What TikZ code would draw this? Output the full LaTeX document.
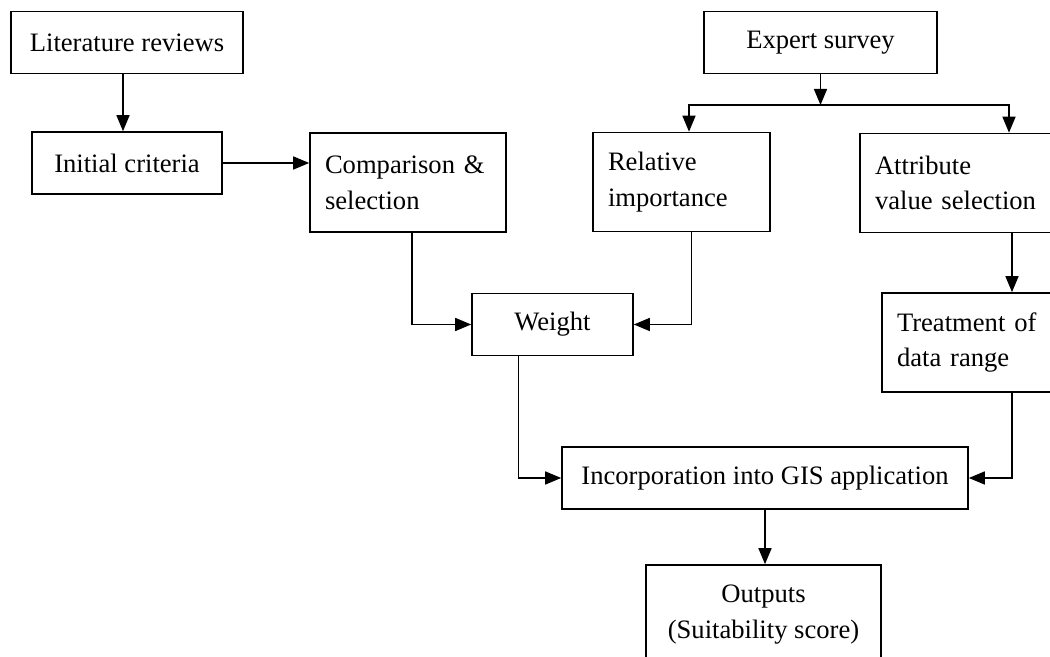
\documentclass[tikz,border=0pt]{standalone}
\usepackage{fontspec}
\setmainfont{Liberation Serif}
\usepackage{tikz}
\usetikzlibrary{arrows.meta}

\tikzset{
	box/.style={draw, line width=0.8pt, rectangle, align=center, inner sep=0pt, minimum height=31pt},
	lbox/.style={box, align=left, inner xsep=7.5pt, minimum height=49.5pt},
	arr/.style={line width=0.75pt, -{Triangle[length=8pt,width=6.5pt]}}
}

\begin{document}
\begin{tikzpicture}[x=0.5pt, y=0.5pt, font=\fontsize{13.3}{17.9}\selectfont]
	\useasboundingbox (0,0) rectangle (1050,657);
	\node[box, minimum width=116pt] (lit) at (127,614.5) {Literature reviews};
	\node[box, minimum width=95pt] (init) at (127,494) {Initial criteria};
	\node[lbox, text width=83pt] (comp) at (408,474.5) {Comparison \&\\selection};
	\node[box, minimum width=116.5pt] (expert) at (820.5,614.5) {Expert survey};
	\node[lbox, text width=73.5pt] (rel) at (681.5,475) {Relative\\importance};
	\node[lbox, text width=134pt] (attr) at (1009,474) {Attribute\\value selection};
	\node[box, minimum width=80.5pt] (weight) at (552.5,332.5) {Weight};
	\node[lbox, text width=115pt] (treat) at (1012,314.5) {Treatment of\\data range};
	\node[box, minimum width=203pt] (gis) at (765,179) {Incorporation into GIS application};
	\node[box, minimum width=117.5pt, minimum height=49.5pt] (out) at (763.5,42.5) {Outputs\\(Suitability score)};
	\coordinate (fork) at (820.5,552);
	\draw[arr] ([xshift=-2pt]lit.south) -- ([xshift=-2pt]init.north);
	\draw[arr] (init.east) -- (init.east -| comp.west);
	\draw[arr] ([xshift=2pt]comp.south) |- (weight.west);
	\draw[arr] ([xshift=5pt]rel.south) |- (weight.east);
	\draw[arr] (expert.south) -- (fork);
	\draw[arr] (fork) -| ([xshift=3.75pt]rel.north);
	\draw[arr] (fork) -| (attr.north);
	\draw[arr] (treat.north |- attr.south) -- (treat.north);
	\draw[arr] (treat.south) |- (gis.east);
	\draw[arr] ([xshift=-17pt]weight.south) |- (gis.west);
	\draw[arr] (gis.south) -- (gis.south |- out.north);
\end{tikzpicture}
\end{document}
